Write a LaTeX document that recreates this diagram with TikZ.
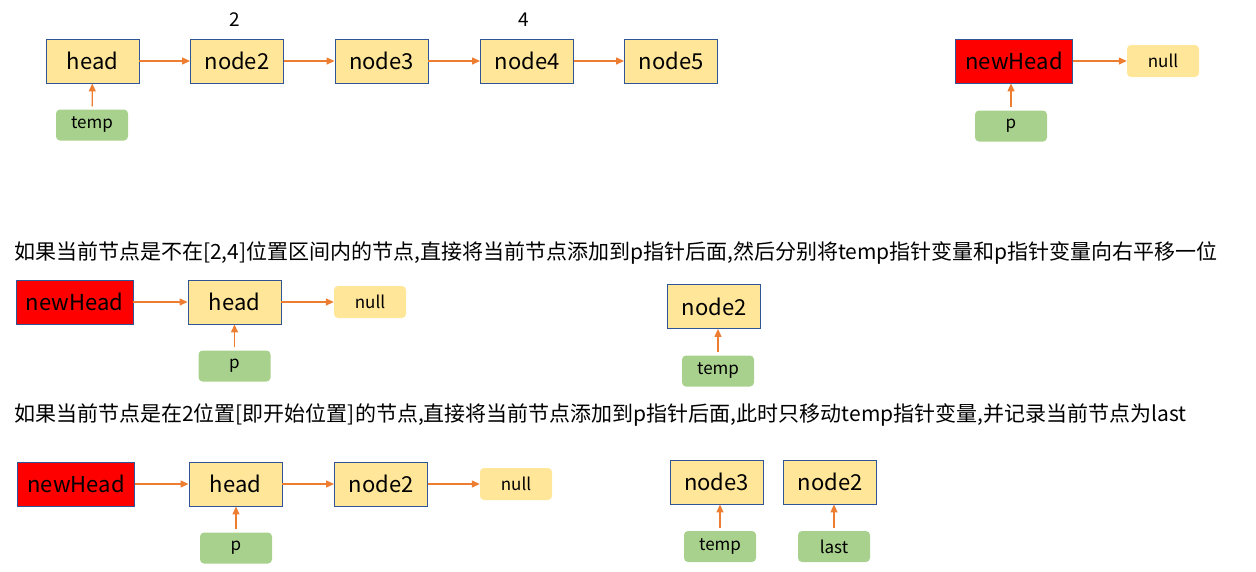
\documentclass[tikz,border=0pt]{standalone}
\usepackage{fontspec}
\setmainfont{Noto Sans CJK SC}
\usetikzlibrary{arrows.meta}
\definecolor{nodefill}{HTML}{FFE699}
\definecolor{nodeedge}{HTML}{2F5597}
\definecolor{ptrfill}{HTML}{A9D18E}
\definecolor{arrowc}{HTML}{ED7D31}
\tikzset{
  lnode/.style={draw=nodeedge, line width=0.9pt, fill=nodefill, minimum width=93pt, minimum height=44pt, inner sep=0pt, font=\fontsize{22}{25}\selectfont},
  headnew/.style={lnode, fill=red, minimum width=117pt},
  nullbox/.style={fill=nodefill, rounded corners=4pt, minimum width=72pt, minimum height=32pt, inner sep=0pt, font=\fontsize{17}{20}\selectfont},
  ptr/.style={fill=ptrfill, rounded corners=4pt, minimum width=72pt, minimum height=31pt, inner sep=0pt, font=\fontsize{17}{20}\selectfont},
  link/.style={draw=arrowc, line width=1.3pt, -{Triangle[length=8pt,width=7pt]}},
  up/.style={link, shorten <=3pt},
  caption/.style={anchor=west, inner sep=0pt, font=\fontsize{21}{24}\selectfont},
  idx/.style={inner sep=0pt, font=\fontsize{19}{22}\selectfont}
}
\begin{document}
\begin{tikzpicture}[x=1pt,y=-1pt]
\useasboundingbox (0,0) rectangle (1256,571);
% row 1
\node[lnode] (r1head) at (92.5,61) {head};
\node[lnode] (r1n2) at (237,61) {node2};
\node[lnode] (r1n3) at (381.5,61) {node3};
\node[lnode] (r1n4) at (527,61) {node4};
\node[lnode] (r1n5) at (671,61) {node5};
\node[idx] (lab2) at (235,20) {2};
\node[idx] (lab4) at (524,20) {4};
\node[ptr] (r1temp) at (92,125) {temp};
\node[headnew] (r1new) at (1014,61) {newHead};
\node[nullbox] (r1null) at (1163,61) {null};
\node[ptr] (r1p) at (1011,126) {p};
\draw[link] (r1head) -- (r1n2);
\draw[link] (r1n2) -- (r1n3);
\draw[link] (r1n3) -- (r1n4);
\draw[link] (r1n4) -- (r1n5);
\draw[up] (r1temp) -- (r1head);
\draw[link] (r1new) -- (r1null);
\draw[up] (r1p) -- (r1p |- r1new.south);
% caption 1
\node[caption] (cap1) at (14,253) {如果当前节点是不在[2,4]位置区间内的节点,直接将当前节点添加到p指针后面,然后分别将temp指针变量和p指针变量向右平移一位};
% row 2
\node[headnew] (r2new) at (74.5,302) {newHead};
\node[lnode] (r2head) at (234.5,302) {head};
\node[nullbox] (r2null) at (370,302) {null};
\node[ptr] (r2p) at (234.5,366) {p};
\node[lnode] (r2n2) at (714,306.5) {node2};
\node[ptr] (r2temp) at (718,371) {temp};
\draw[link] (r2new) -- (r2head);
\draw[link] (r2head) -- (r2null);
\draw[up] (r2p) -- (r2head);
\draw[up] (r2temp) -- (r2temp |- r2n2.south);
% caption 2
\node[caption] (cap2) at (14,415) {如果当前节点是在2位置[即开始位置]的节点,直接将当前节点添加到p指针后面,此时只移动temp指针变量,并记录当前节点为last};
% row 3
\node[headnew] (r3new) at (76,484) {newHead};
\node[lnode] (r3head) at (235.5,484) {head};
\node[lnode] (r3n2) at (381,484) {node2};
\node[nullbox] (r3null) at (516,484) {null};
\node[ptr] (r3p) at (236,548) {p};
\node[lnode] (r3n3) at (716.5,482) {node3};
\node[lnode] (r3n2b) at (830,482) {node2};
\node[ptr] (r3temp) at (720,546.5) {temp};
\node[ptr] (r3last) at (834,546.5) {last};
\draw[link] (r3new) -- (r3head);
\draw[link] (r3head) -- (r3n2);
\draw[link] (r3n2) -- (r3null);
\draw[up] (r3p) -- (r3p |- r3head.south);
\draw[up] (r3temp) -- (r3temp |- r3n3.south);
\draw[up] (r3last) -- (r3last |- r3n2b.south);
\end{tikzpicture}
\end{document}
